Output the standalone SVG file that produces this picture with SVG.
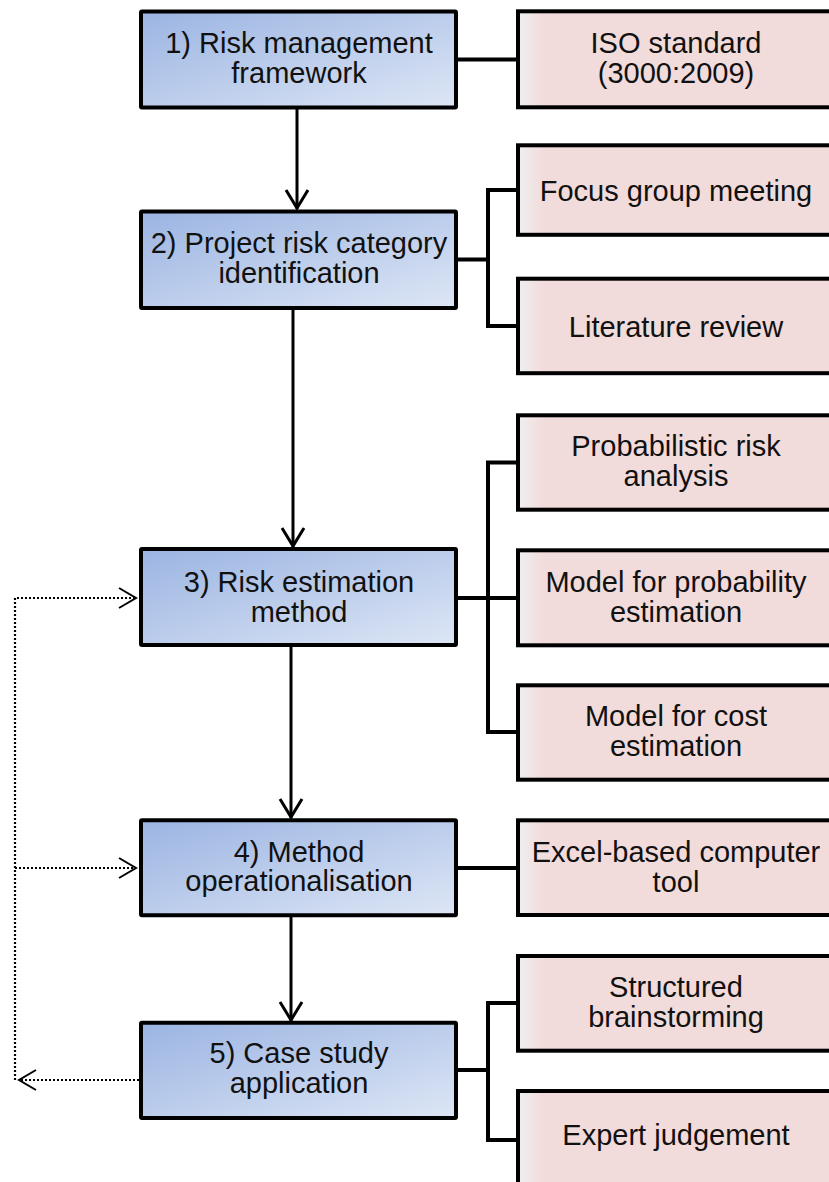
<svg xmlns="http://www.w3.org/2000/svg" width="829" height="1182" viewBox="0 0 829 1182">
<style>
  .blue { fill: url(#gBlue); stroke: #000; stroke-width: 4; }
  .pink { fill: url(#gPink); stroke: #000; stroke-width: 4; }
  .t { font-family: "Liberation Sans", Arial, sans-serif; font-size: 29px; text-anchor: middle; fill: #111; }
  .conn { fill: none; stroke: #000; stroke-width: 4; }
  .arrow { fill: none; stroke: #000; stroke-width: 3; marker-end: url(#mSolid); }
  .dot { fill: none; stroke: #000; stroke-width: 2.2; stroke-dasharray: 2 2; }
</style>
<defs>
  <linearGradient id="gBlue" x1="0" y1="0" x2="1" y2="1">
    <stop offset="0" stop-color="#9bb4e2"/>
    <stop offset="1" stop-color="#dde6f5"/>
  </linearGradient>
  <linearGradient id="gPink" gradientUnits="userSpaceOnUse" x1="519" y1="0" x2="545" y2="0">
    <stop offset="0" stop-color="#f0eeee"/>
    <stop offset="1" stop-color="#f2dbdb"/>
  </linearGradient>
  <marker id="mSolid" markerUnits="userSpaceOnUse" viewBox="-22 -14 26 28" markerWidth="26" markerHeight="28" refX="0" refY="0" orient="auto" overflow="visible">
    <path d="M-19,-11 L-1,0 L-19,11" fill="none" stroke="#000" stroke-width="3"/>
  </marker>
  <marker id="mDot" markerUnits="userSpaceOnUse" viewBox="-20 -12 22 24" markerWidth="22" markerHeight="24" refX="0" refY="0" orient="auto" overflow="visible">
    <path d="M-17,-10 L0,0 L-17,10" fill="none" stroke="#000" stroke-width="2" stroke-dasharray="none"/>
  </marker>
</defs>

<g id="connectors">
  <path class="arrow" d="M297,109 V209"/>
  <path class="arrow" d="M293,310 V547"/>
  <path class="arrow" d="M291,647 V818"/>
  <path class="arrow" d="M291,917 V1021"/>
  <path class="conn" d="M458,59.5 H518"/>
  <path class="conn" d="M458,259.5 H488 M488,190 V326 M486,190 H518 M486,326 H518"/>
  <path class="conn" d="M458,598 H518 M488,462.5 V732 M486,462.5 H518 M486,732 H518"/>
  <path class="conn" d="M458,868 H518"/>
  <path class="conn" d="M458,1070 H488 M488,1003 V1140 M486,1003 H518 M486,1140 H518"/>
  <path class="dot" d="M139,1080 H19" marker-end="url(#mDot)"/>
  <path class="dot" d="M15,1080 V598 H136" marker-end="url(#mDot)"/>
  <path class="dot" d="M15,868 H136" marker-end="url(#mDot)"/>
</g>

<g id="n1">
  <rect class="blue" x="141" y="11.5" width="315" height="96" rx="1"/>
  <text class="t" x="299" y="53">1) Risk management</text>
  <text class="t" x="299" y="83">framework</text>
</g>
<g id="n2">
  <rect class="blue" x="141" y="211.5" width="315" height="96.5" rx="1"/>
  <text class="t" x="299" y="252.5">2) Project risk category</text>
  <text class="t" x="299" y="283">identification</text>
</g>
<g id="n3">
  <rect class="blue" x="141" y="549" width="315" height="96" rx="1"/>
  <text class="t" x="299" y="591.5">3) Risk estimation</text>
  <text class="t" x="299" y="621.5">method</text>
</g>
<g id="n4">
  <rect class="blue" x="141" y="820.3" width="315" height="95" rx="1"/>
  <text class="t" x="299" y="861.7">4) Method</text>
  <text class="t" x="299" y="891">operationalisation</text>
</g>
<g id="n5">
  <rect class="blue" x="141" y="1022.7" width="315" height="95.3" rx="1"/>
  <text class="t" x="299" y="1063.3">5) Case study</text>
  <text class="t" x="299" y="1093.3">application</text>
</g>

<g id="r1">
  <rect class="pink" x="518" y="11.3" width="330" height="96"/>
  <text class="t" x="676" y="53">ISO standard</text>
  <text class="t" x="676" y="83">(3000:2009)</text>
</g>
<g id="r2">
  <rect class="pink" x="518" y="145.3" width="330" height="89.5"/>
  <text class="t" x="676" y="201">Focus group meeting</text>
</g>
<g id="r3">
  <rect class="pink" x="518" y="278.7" width="330" height="94.5"/>
  <text class="t" x="676" y="337">Literature review</text>
</g>
<g id="r4">
  <rect class="pink" x="518" y="415.3" width="330" height="94.4"/>
  <text class="t" x="676" y="455.5">Probabilistic risk</text>
  <text class="t" x="676" y="486">analysis</text>
</g>
<g id="r5">
  <rect class="pink" x="518" y="550.3" width="330" height="95"/>
  <text class="t" x="676" y="591.5">Model for probability</text>
  <text class="t" x="676" y="621.5">estimation</text>
</g>
<g id="r6">
  <rect class="pink" x="518" y="685.3" width="330" height="94.4"/>
  <text class="t" x="676" y="726">Model for cost</text>
  <text class="t" x="676" y="756">estimation</text>
</g>
<g id="r7">
  <rect class="pink" x="518" y="820.3" width="330" height="94.7"/>
  <text class="t" x="676" y="861.7">Excel-based computer</text>
  <text class="t" x="676" y="891.7">tool</text>
</g>
<g id="r8">
  <rect class="pink" x="518" y="956" width="330" height="94.7"/>
  <text class="t" x="676" y="996.7">Structured</text>
  <text class="t" x="676" y="1027">brainstorming</text>
</g>
<g id="r9">
  <rect class="pink" x="518" y="1091" width="330" height="120"/>
  <text class="t" x="676" y="1145">Expert judgement</text>
</g>
</svg>
